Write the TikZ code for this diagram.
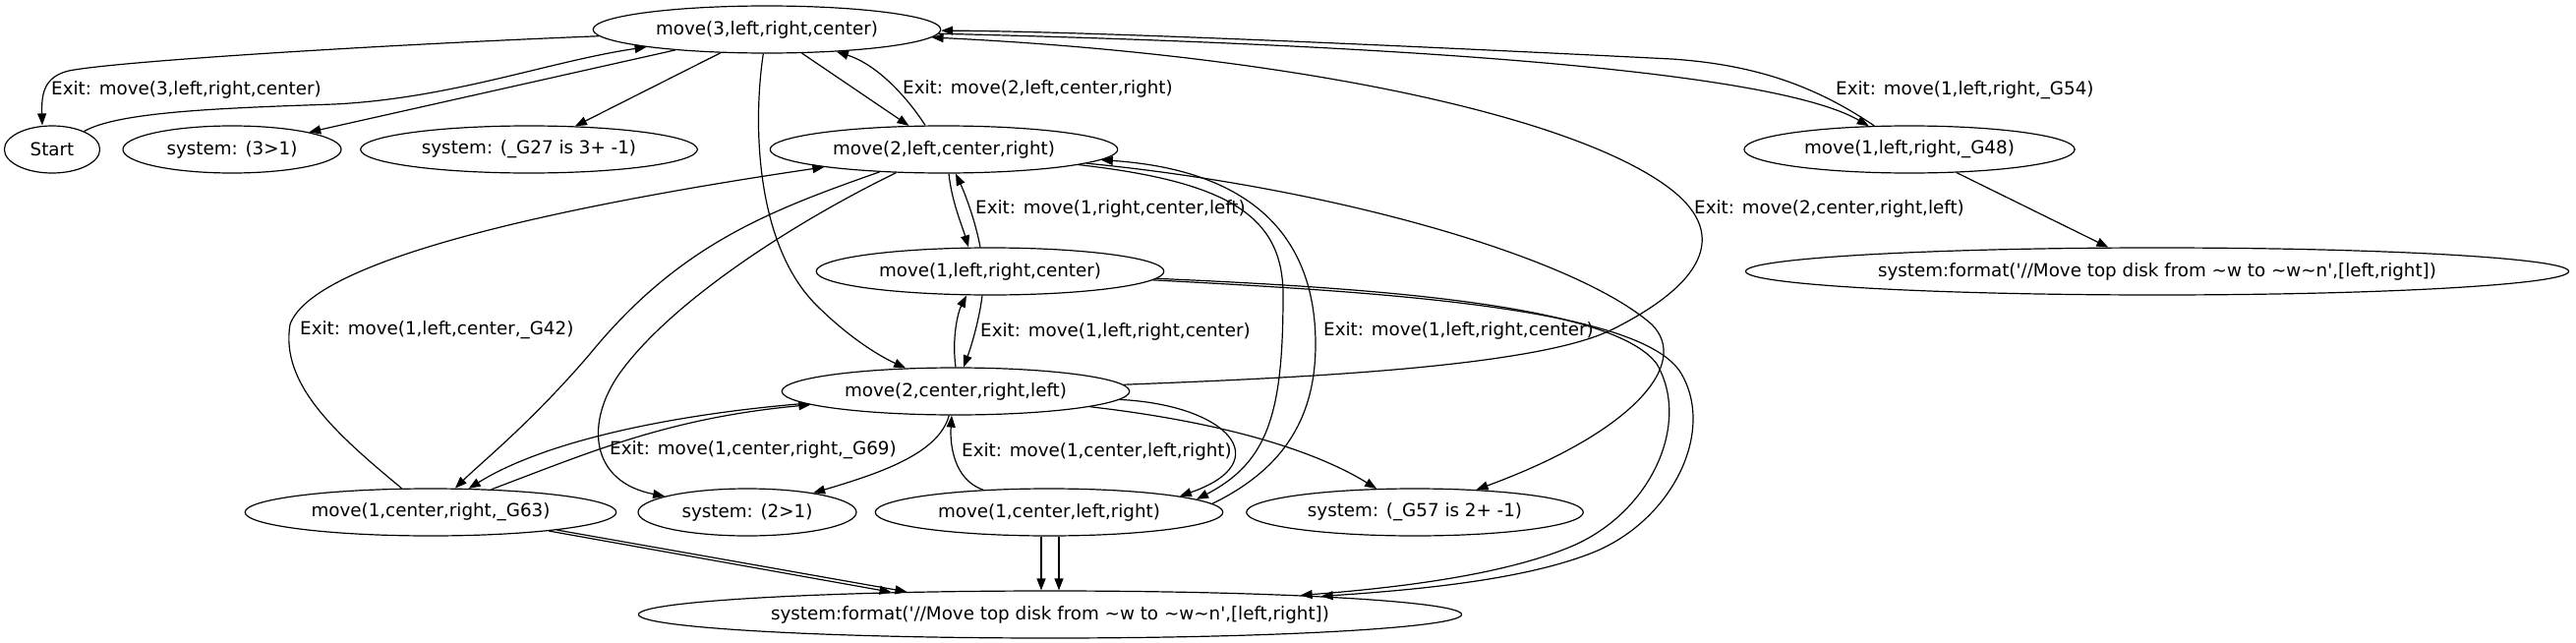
\documentclass[tikz,border=0pt]{standalone}
\usepackage{fontspec}
\setmainfont{DejaVu Sans}
\usetikzlibrary{shapes.geometric}
\usetikzlibrary{arrows.meta}
\usetikzlibrary{calc}
\newcommand{\fmtmsg}{system:format(\textquotesingle//Move top disk from \textasciitilde w to \textasciitilde w\textasciitilde n\textquotesingle,[left,right])}

\begin{document}
\begin{tikzpicture}[x=1pt,y=-1pt,font=\fontsize{18.3}{22}\selectfont,
	nd/.style={ellipse,draw,line width=1.2pt,inner xsep=12pt,inner ysep=2pt,minimum height=48pt},
	ed/.style={line width=1.2pt,-{Triangle[length=12pt,width=9pt]}},
	lb/.style={anchor=west,inner sep=0pt}]

\useasboundingbox (0,0) rectangle (2620,653);

	\node[nd] (m3) at (780,30) {move(3,left,right,center)};
	\node[nd] (st) at (53,152) {Start};
	\node[nd] (s31) at (236,152) {system: (3>1)};
	\node[nd] (s27) at (538,152) {system: (\_G27 is 3+ -1)};
	\node[nd] (m2a) at (960,152) {move(2,left,center,right)};
	\node[nd] (m48) at (1942,152) {move(1,left,right,\_G48)};
	\node[nd] (m1a) at (1007,276) {move(1,left,right,center)};
	\node[nd] (f1) at (2194,276) {\fmtmsg};
	\node[nd] (m2b) at (972,398) {move(2,center,right,left)};
	\node[nd] (m63) at (438,521) {move(1,center,right,\_G63)};
	\node[nd] (s21) at (760,521) {system: (2>1)};
	\node[nd] (m1c) at (1067,521) {move(1,center,left,right)};
	\node[nd] (s57) at (1439,521) {system: (\_G57 is 2+ -1)};
	\node[nd] (f2) at (1068,625) {\fmtmsg};

% top node
\draw[ed] (m3) .. controls (400,45) and (120,62) .. (70,72) .. controls (45,78) and (42,95) .. ($(st.north)+(-10,0)$);
\draw[ed] (st) .. controls (120,114) and (220,110) .. (340,106) .. controls (460,100) and (560,62) .. (m3);
\draw[ed] (m3) -- (s31);
\draw[ed] (m3) -- (s27);
\draw[ed] (m3) -- (m2a);
\draw[ed] ($(m2a.north)+(-19,0)$) .. controls (920,95) and (890,65) .. (m3);
\draw[ed] (m3) .. controls (765,130) and (770,250) .. (830,310) .. controls (860,340) and (890,360) .. (m2b);
\draw[ed] (m3) .. controls (1400,45) and (1800,70) .. (m48);
\draw[ed] (m48) .. controls (1850,90) and (1790,66) .. (1700,60) .. controls (1400,45) and (1100,32) .. (m3);
\draw[ed] (m48) -- (f1);

% second level
\draw[ed] (m2a) .. controls (780,215) and (690,250) .. (600,360) .. controls (540,430) and (490,470) .. (m63);
\draw[ed] (m2a) .. controls (800,230) and (680,310) .. (630,380) .. controls (595,430) and (600,490) .. (s21);
\draw[ed] (m63) .. controls (340,440) and (285,390) .. (295,330) .. controls (320,260) and (600,205) .. (m2a);
\draw[ed] ($(m2a.south)+(5,0)$) .. controls (968,205) and (978,228) .. ($(m1a.north)+(-22,0)$);
\draw[ed] ($(m1a.north)+(-10,0)$) .. controls (992,225) and (982,198) .. ($(m2a.south)+(12,0)$);
\draw[ed] (m2a) .. controls (1250,185) and (1305,220) .. (1305,300) .. controls (1305,420) and (1290,470) .. (m1c.5);
\draw[ed] (m1c.3) .. controls (1310,475) and (1338,420) .. (1338,350) .. controls (1338,230) and (1260,172) .. (m2a);
\draw[ed] (m2a) .. controls (1350,190) and (1600,260) .. (1680,330) .. controls (1720,370) and (1660,440) .. (s57);

% third and fourth level
\draw[ed] (m2b.north) .. controls (968,345) and (974,318) .. ($(m1a.south)+(-24,0)$);
\draw[ed] ($(m1a.south)+(-8,0)$) .. controls (996,325) and (988,352) .. ($(m2b.north)+(8,0)$);
\draw[ed] (m1a) .. controls (1400,293) and (1640,310) .. (1685,370) .. controls (1720,430) and (1680,520) .. (1600,555) .. controls (1530,585) and (1420,598) .. (f2);
\draw[ed] (m1a) .. controls (1400,297) and (1670,312) .. (1710,380) .. controls (1745,440) and (1700,530) .. (1620,562) .. controls (1550,590) and (1440,600) .. (f2);
\draw[ed] (m2b) .. controls (700,420) and (560,445) .. (m63);
\draw[ed] (m63) .. controls (600,460) and (680,425) .. (m2b);
\draw[ed] (m2b) .. controls (955,460) and (900,480) .. (s21);
\draw[ed] (m1c) .. controls (970,488) and (966,452) .. ($(m2b.south)+(-4,0)$);
\draw[ed] (m2b) .. controls (1250,412) and (1300,470) .. (m1c.7);
\draw[ed] (m2b) .. controls (1250,430) and (1340,460) .. (s57);
\draw[ed] (m2b) .. controls (1300,385) and (1560,375) .. (1640,335) .. controls (1730,290) and (1760,240) .. (1700,193) .. controls (1600,115) and (1300,55) .. (m3);

% bottom
\draw[ed] (m63.-9) -- (f2.172);
\draw[ed] (m63.-8.5) -- (f2.171);
\draw[ed] ($(m1c.south)+(-8,0)$) -- ($(f2.north)+(-9,0)$);
\draw[ed] ($(m1c.south)+(10,0)$) -- ($(f2.north)+(9,0)$);

% labels
	\node[lb] (x1) at (52,91) {Exit: move(3,left,right,center)};
	\node[lb] (x2) at (918,90) {Exit: move(2,left,center,right)};
	\node[lb] (x3) at (305,336) {Exit: move(1,left,center,\_G42)};
	\node[lb] (x4) at (620,458) {Exit: move(1,center,right,\_G69)};
	\node[lb] (x5) at (992,212) {Exit: move(1,right,center,left)};
	\node[lb] (x6) at (997,337) {Exit: move(1,left,right,center)};
	\node[lb] (x7) at (978,459) {Exit: move(1,center,left,right)};
	\node[lb] (x8) at (1346,336) {Exit: move(1,left,right,center)};
	\node[lb] (x9) at (1723,212) {Exit: move(2,center,right,left)};
	\node[lb] (x10) at (1867,92) {Exit: move(1,left,right,\_G54)};

\end{tikzpicture}
\end{document}
